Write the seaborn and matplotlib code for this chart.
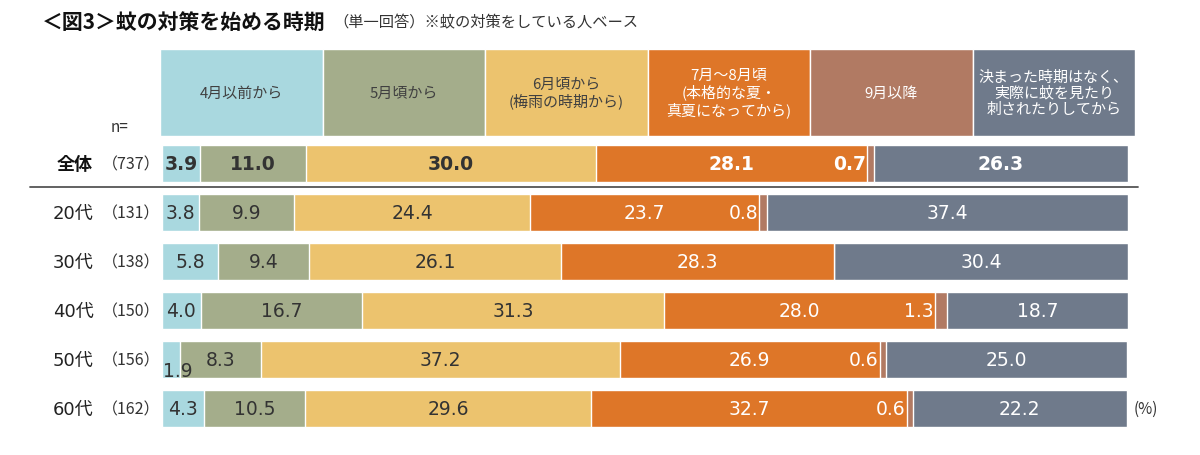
import matplotlib
matplotlib.use("Agg")
import matplotlib.pyplot as plt
import matplotlib.transforms as mtrans
from matplotlib.lines import Line2D
import seaborn as sns
import numpy as np
import pandas as pd

# ---------------- data ----------------
title = "＜図3＞蚊の対策を始める時期"
subtitle = "（単一回答）※蚊の対策をしている人ベース"
categories = ["4月以前から", "5月頃から", "6月頃から\n(梅雨の時期から)",
              "7月～8月頃\n(本格的な夏・\n真夏になってから)", "9月以降",
              "決まった時期はなく、\n実際に蚊を見たり\n刺されたりしてから"]
groups = ["全体", "20代", "30代", "40代", "50代", "60代"]
n_counts = [737, 131, 138, 150, 156, 162]
s_apr = [3.9, 3.8, 5.8, 4.0, 1.9, 4.3]
s_may = [11.0, 9.9, 9.4, 16.7, 8.3, 10.5]
s_jun = [30.0, 24.4, 26.1, 31.3, 37.2, 29.6]
s_jul = [28.1, 23.7, 28.3, 28.0, 26.9, 32.7]
s_sep = [0.7, 0.8, 0.0, 1.3, 0.6, 0.6]
s_none = [26.3, 37.4, 30.4, 18.7, 25.0, 22.2]
series = [s_apr, s_may, s_jun, s_jul, s_sep, s_none]

colors = ["#a9d8df", "#a4ad8b", "#ecc36e", "#de7628", "#b17a63", "#6f7a8b"]
text_colors = ["#333333", "#333333", "#333333", "white", "white", "white"]

# ---------------- figure ----------------
sns.set_theme(style="white")
plt.rcParams['font.family'] = ['Noto Sans CJK JP', 'DejaVu Sans']

W, H = 1200, 456
fig = plt.figure(figsize=(W / 100, H / 100), dpi=100)
fig.patch.set_facecolor("white")


def fx(px):
    return px / W


def fy(py):
    return 1 - py / H


# main stacked bars
top_px, bot_px = 140.5, 434.0
ax = fig.add_axes([fx(162), fy(bot_px), fx(1128) - fx(162), (bot_px - top_px) / H])

vals = np.array(series)
cum = np.cumsum(vals, axis=0)
for i in reversed(range(len(series))):
    df = pd.DataFrame({"group": groups, "cum": cum[i]})
    sns.barplot(data=df, x="cum", y="group", orient="h", order=groups,
                color=colors[i], saturation=1, width=0.757, ax=ax)

ax.set_xlim(0, 100)
ax.set_ylim(5.5, -0.5)
ax.set_xlabel("")
ax.set_ylabel("")
ax.axis("off")

# value labels
for j, g in enumerate(groups):
    bold = (j == 0)
    for i in range(len(series)):
        v = vals[i, j]
        if v <= 0:
            continue
        start = cum[i, j] - v
        x = start + v / 2
        y = j
        ha = "center"
        if i == 4:
            x = start - 0.1
            ha = "right"
        if g == "50代" and i == 0:
            x += 0.7
            y += 0.23
        ax.text(x, y, f"{v:.1f}", ha=ha, va="center",
                fontsize=13.5, color=text_colors[i],
                fontweight="bold" if bold else "normal",
                family=["DejaVu Sans"])

# row labels
tr = mtrans.blended_transform_factory(fig.transFigure, ax.transData)
for j, g in enumerate(groups):
    if j == 0:
        ax.text(fx(75), j, g, transform=tr, ha="center", va="center",
                fontsize=13, fontweight="bold", color="#111111",
                family=["Noto Sans CJK JP", "DejaVu Sans"])
    else:
        ax.text(fx(73), j, g, transform=tr, ha="center", va="center",
                fontsize=13, color="#222222",
                family=["DejaVu Sans", "Noto Sans CJK JP"])
    ax.text(fx(131), j, f"（{n_counts[j]}）", transform=tr, ha="center",
            va="center", fontsize=11.5, color="#333333")

# header
hax = fig.add_axes([fx(160), fy(137), fx(1135) - fx(160), 87 / H])
hdf = pd.DataFrame({"cat": categories, "h": [1] * len(categories)})
sns.barplot(data=hdf, x="cat", y="h", hue="cat", palette=colors, order=categories,
            hue_order=categories, saturation=1, width=1.0, legend=False, ax=hax)
hax.set_xlim(-0.5, 5.5)
hax.set_ylim(0, 1)
hax.axis("off")
for i, c in enumerate(categories):
    hax.text(i, 0.5, c, ha="center", va="center", fontsize=10.8,
             color="#404040" if i < 3 else "white", linespacing=1.15)

# separator
fig.add_artist(Line2D([fx(30), fx(1138)], [fy(187.5), fy(187.5)],
                      color="#555555", lw=1.3))

# titles and notes
fig.text(fx(42), fy(22), title, fontsize=15, fontweight="bold", va="center",
         ha="left", color="#111111")
fig.text(fx(333), fy(23), subtitle, fontsize=11, va="center", ha="left",
         color="#333333")
fig.text(fx(120), fy(128), "n=", fontsize=11, va="center", ha="center",
         color="#333333")
fig.text(fx(1146), fy(409), "(%)", fontsize=11, va="center", ha="center",
         color="#333333")

fig.savefig("out.png", dpi=100)
